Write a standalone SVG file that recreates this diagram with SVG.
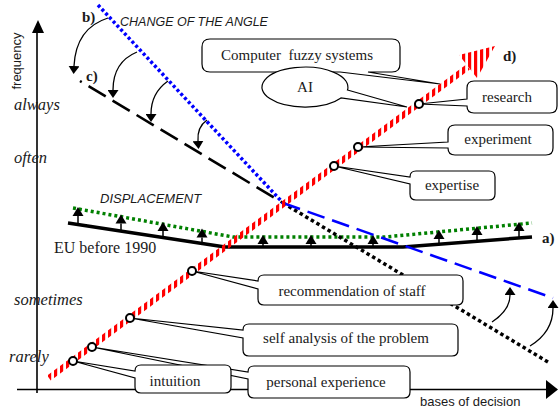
<svg xmlns="http://www.w3.org/2000/svg" width="559" height="409" viewBox="0 0 559 409">
<defs>
<pattern id="hatch" patternUnits="userSpaceOnUse" width="6" height="6"><rect x="0" y="0" width="3.2" height="6" fill="#ff0000"/></pattern>
<marker id="ah" markerUnits="userSpaceOnUse" markerWidth="8" markerHeight="11" viewBox="0 0 10 10" refX="0" refY="5" orient="auto" preserveAspectRatio="none"><path d="M0,0 L10,5 L0,10 Z" fill="#000"/></marker>
</defs>
<style>
.serif{font-family:"Liberation Serif","Times New Roman",serif;}
.sans{font-family:"Liberation Sans",Arial,sans-serif;}
.lbl{font-size:15px;text-anchor:middle;fill:#1a1a1a}
.ax{font-size:16.5px;font-style:italic;fill:#1a1a1a}
.tag{font-size:15px;font-weight:bold;fill:#1a1a1a}
.callout{fill:#fff;stroke:#000;stroke-width:1.2}
.circ{fill:#fff;stroke:#000;stroke-width:2}
.curve{fill:none;stroke:#000;stroke-width:1.3;marker-end:url(#ah)}
.up{fill:#000}
.stem{stroke:#000;stroke-width:1.5}
</style>
<rect width="559" height="409" fill="#fff"/>
<g id="axes">
<line x1="37" y1="30" x2="37" y2="393" stroke="#000" stroke-width="1.6"/>
<path d="M38,20 L44,33 L32,33 Z" fill="#000"/>
<line x1="17" y1="389.5" x2="548" y2="389.5" stroke="#000" stroke-width="1.6"/>
<path d="M558,389.5 L546,380 L546,399 Z" fill="#000"/>
<text class="sans" font-size="13" text-anchor="middle" transform="translate(21,61) rotate(-90)" fill="#1a1a1a">frequency</text>
<text class="sans" font-size="13" x="420" y="406" fill="#1a1a1a">bases of decision</text>
<text class="serif ax" x="14" y="110">always</text>
<text class="serif ax" x="14" y="163">often</text>
<text class="serif ax" x="14" y="305">sometimes</text>
<text class="serif ax" x="9" y="362">rarely</text>
</g>
<g id="connectors">
<polyline points="68,223 225,247 403,247 532,237" fill="none" stroke="#000" stroke-width="3.5"/>
<polyline points="73,208 233,237 385,237 532,223" fill="none" stroke="#008000" stroke-width="3.5" stroke-dasharray="3 3"/>
<g id="displacement-arrows">
<path class="up" d="M78,207 L83.5,216 L72.5,216 Z"/><line class="stem" x1="78" y1="216" x2="78" y2="224.5"/>
<path class="up" d="M121,214.5 L126.5,223.5 L115.5,223.5 Z"/><line class="stem" x1="121" y1="223.5" x2="121" y2="230.8"/>
<path class="up" d="M163,222 L168.5,231 L157.5,231 Z"/><line class="stem" x1="163" y1="231" x2="163" y2="237"/>
<path class="up" d="M202,228.5 L207.5,237.5 L196.5,237.5 Z"/><line class="stem" x1="202" y1="237.5" x2="202" y2="242.6"/>
<path class="up" d="M263,235 L268.5,244 L257.5,244 Z"/><line class="stem" x1="263" y1="244" x2="263" y2="247"/>
<path class="up" d="M311,235 L316.5,244 L305.5,244 Z"/><line class="stem" x1="311" y1="244" x2="311" y2="247"/>
<path class="up" d="M373,235 L378.5,244 L367.5,244 Z"/><line class="stem" x1="373" y1="244" x2="373" y2="247"/>
<path class="up" d="M439,230 L444.5,239 L433.5,239 Z"/><line class="stem" x1="439" y1="239" x2="439" y2="244.2"/>
<path class="up" d="M477,226 L482.5,235 L471.5,235 Z"/><line class="stem" x1="477" y1="235" x2="477" y2="241.3"/>
<path class="up" d="M519,222 L524.5,231 L513.5,231 Z"/><line class="stem" x1="519" y1="231" x2="519" y2="238"/>
</g>
<line x1="80" y1="81" x2="283" y2="203" stroke="#000" stroke-width="2.6" stroke-dasharray="20 8" stroke-dashoffset="18"/>
<line x1="283" y1="203" x2="548" y2="362" stroke="#000" stroke-width="3.5" stroke-dasharray="3.5 3"/>
<line x1="283" y1="203" x2="553" y2="298" stroke="#0000ff" stroke-width="2.5" stroke-dasharray="18 8"/>
<line x1="98" y1="5" x2="284" y2="204" stroke="#0000ff" stroke-width="3.5" stroke-dasharray="3 2.5"/>
<path class="curve" d="M108,18 Q76,28 74,66"/>
<path class="curve" d="M137,52 Q113,62 113,90"/>
<path class="curve" d="M168,81 Q151,93 151,114"/>
<path class="curve" d="M207,120 Q197,127 198,141"/>
<path class="curve" d="M492,322 Q510,310 510,295"/>
<path class="curve" d="M530,346 Q553,332 553,308"/>
</g>
<g id="labels">
<text class="sans" font-size="12.5" font-style="italic" x="120" y="26" fill="#1a1a1a">CHANGE OF THE ANGLE</text>
<text class="sans" font-size="13" font-style="italic" x="100" y="203" fill="#1a1a1a">DISPLACEMENT</text>
<text class="serif" font-size="16" x="54" y="253" fill="#1a1a1a">EU before 1990</text>
<text class="serif tag" x="542" y="243">a)</text>
<text class="serif tag" x="82" y="22">b)</text>
<text class="serif tag" x="86" y="81">c)</text>
<text class="serif tag" x="503" y="61">d)</text>
</g>
<g id="node-computer-fuzzy-systems">
<path class="callout" d="M210,39 H392 Q400,39 400,47 V64 Q400,72 392,72 H368 L440,84 L340,72 H210 Q202,72 202,64 V47 Q202,39 210,39 Z"/>
<text class="serif lbl" x="297" y="60" style="white-space:pre">Computer  fuzzy systems</text>
</g>
<g id="node-ai">
<path class="callout" d="M347.5,90 L407,107 L341,98 A43,20 0 1 1 347.5,90 Z"/>
<text class="serif lbl" x="305" y="92">AI</text>
</g>
<g id="node-research">
<path class="callout" d="M474,81 H550 Q557,81 557,88 V106 Q557,113 550,113 H474 Q467,113 467,106 L419,104 L467,99 V88 Q467,81 474,81 Z"/>
<text class="serif lbl" x="507" y="102">research</text>
</g>
<g id="node-experiment">
<path class="callout" d="M455,125 H546 Q553,125 553,132 V148 Q553,155 546,155 H455 Q448,155 448,148 L358,147 L448,142 V132 Q448,125 455,125 Z"/>
<text class="serif lbl" x="498" y="144">experiment</text>
</g>
<g id="node-expertise">
<path class="callout" d="M416,171 H489 Q495,171 495,177 V194 Q495,200 489,200 H416 Q410,200 410,194 V184 L334,166 L410,177 Q410,171 416,171 Z"/>
<text class="serif lbl" x="452" y="190">expertise</text>
</g>
<g id="node-recommendation-of-staff">
<path class="callout" d="M264,275 H457 Q463,275 463,281 V299 Q463,305 457,305 H264 Q258,305 258,299 V289 L192,271 L258,281 Q258,275 264,275 Z"/>
<text class="serif lbl" x="352" y="296">recommendation of staff</text>
</g>
<g id="node-self-analysis">
<path class="callout" d="M249,324 H452 Q458,324 458,330 V350 Q458,356 452,356 H249 Q243,356 243,350 V338 L130,318 L243,330 Q243,324 249,324 Z"/>
<text class="serif lbl" x="346" y="343">self analysis of the problem</text>
</g>
<g id="node-personal-experience">
<path class="callout" d="M254,366 H404 Q410,366 410,372 V392 Q410,398 404,398 H254 Q248,398 248,392 V379 L92,347 L248,372 Q248,366 254,366 Z"/>
<text class="serif lbl" x="326" y="387">personal experience</text>
</g>
<g id="node-intuition">
<path class="callout" d="M141,365 H225 Q231,365 231,371 V387 Q231,393 225,393 H141 Q135,393 135,387 V378 L73,361 L135,371 Q135,365 141,365 Z"/>
<text class="serif lbl" x="175" y="386">intuition</text>
</g>
<g id="line-d">
<line x1="49" y1="378" x2="468" y2="67" stroke="url(#hatch)" stroke-width="6"/>
<polygon points="495,46 477,78 459,55" fill="url(#hatch)"/>
</g>
<g id="points">
<circle class="circ" cx="419" cy="104" r="4"/>
<circle class="circ" cx="358" cy="147" r="4"/>
<circle class="circ" cx="334" cy="166" r="4"/>
<circle class="circ" cx="192" cy="271" r="4"/>
<circle class="circ" cx="130" cy="318" r="4"/>
<circle class="circ" cx="92" cy="347" r="4"/>
<circle class="circ" cx="73" cy="361" r="4"/>
</g>
</svg>
